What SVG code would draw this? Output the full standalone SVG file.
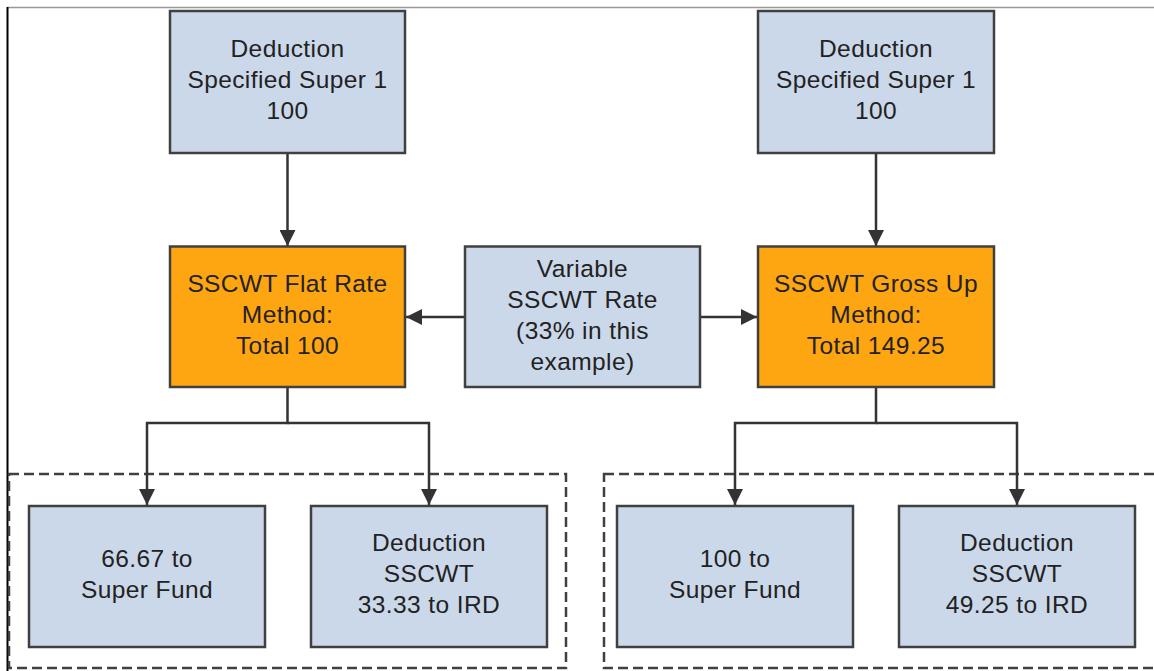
<svg xmlns="http://www.w3.org/2000/svg" width="1154" height="671" viewBox="0 0 1154 671">
<defs>
<marker id="ah" viewBox="0 0 16 16" refX="16" refY="8" markerWidth="16" markerHeight="16" markerUnits="userSpaceOnUse" orient="auto">
<path d="M0,0 L16,8 L0,16 z" fill="#333"/>
</marker>
</defs>
<style>
.box{fill:#cbd8ea;stroke:#404040;stroke-width:2.5}
.org{fill:#fea512;stroke:#404040;stroke-width:2.5}
.grp{fill:none;stroke:#404040;stroke-width:2.5;stroke-dasharray:10 5}
.t{font-family:"Liberation Sans",Arial,sans-serif;font-size:24.5px;letter-spacing:0.4px;fill:#222;text-anchor:middle}
.c{fill:none;stroke:#333;stroke-width:2.5}
</style>
<rect width="1154" height="671" fill="#fff"/>
<line x1="7" y1="7.5" x2="1154" y2="7.5" stroke="#999" stroke-width="1.5"/>
<line x1="7.5" y1="7" x2="7.5" y2="671" stroke="#000" stroke-width="2"/>

<g id="group-left"><rect class="grp" x="9" y="474" width="557" height="194"/></g>
<g id="group-right"><rect class="grp" x="604" y="474" width="560" height="194"/></g>

<g id="connectors">
<path class="c" d="M287.5,153 V246" marker-end="url(#ah)"/>
<path class="c" d="M876,153 V246" marker-end="url(#ah)"/>
<path class="c" d="M465,317 H406" marker-end="url(#ah)"/>
<path class="c" d="M700,317 H757" marker-end="url(#ah)"/>
<path class="c" d="M287.5,387 V423 H147 V505" marker-end="url(#ah)"/>
<path class="c" d="M287.5,423 H429 V505" marker-end="url(#ah)"/>
<path class="c" d="M876,387 V423 H735 V505" marker-end="url(#ah)"/>
<path class="c" d="M876,423 H1017 V505" marker-end="url(#ah)"/>
</g>

<g id="ded-left">
<rect class="box" x="170" y="11" width="235" height="142"/>
<text class="t" x="287.5" y="57">Deduction</text>
<text class="t" x="287.5" y="88">Specified Super 1</text>
<text class="t" x="287.5" y="119">100</text>
</g>
<g id="ded-right">
<rect class="box" x="758" y="11" width="236" height="142"/>
<text class="t" x="876" y="57">Deduction</text>
<text class="t" x="876" y="88">Specified Super 1</text>
<text class="t" x="876" y="119">100</text>
</g>
<g id="flat-rate">
<rect class="org" x="170" y="246.5" width="235" height="140.5"/>
<text class="t" x="287.5" y="292">SSCWT Flat Rate</text>
<text class="t" x="287.5" y="323">Method:</text>
<text class="t" x="287.5" y="354">Total 100</text>
</g>
<g id="variable-rate">
<rect class="box" x="465" y="246.5" width="235" height="140.5"/>
<text class="t" x="582.5" y="277">Variable</text>
<text class="t" x="582.5" y="308">SSCWT Rate</text>
<text class="t" x="582.5" y="339">(33% in this</text>
<text class="t" x="582.5" y="369.5">example)</text>
</g>
<g id="gross-up">
<rect class="org" x="758" y="246.5" width="236" height="140.5"/>
<text class="t" x="876" y="292">SSCWT Gross Up</text>
<text class="t" x="876" y="323">Method:</text>
<text class="t" x="876" y="354">Total 149.25</text>
</g>
<g id="super-fund-left">
<rect class="box" x="29" y="506" width="236" height="141"/>
<text class="t" x="147" y="567">66.67 to</text>
<text class="t" x="147" y="598">Super Fund</text>
</g>
<g id="sscwt-left">
<rect class="box" x="311" y="506" width="236" height="141"/>
<text class="t" x="429" y="551">Deduction</text>
<text class="t" x="429" y="582">SSCWT</text>
<text class="t" x="429" y="613">33.33 to IRD</text>
</g>
<g id="super-fund-right">
<rect class="box" x="617" y="506" width="236" height="141"/>
<text class="t" x="735" y="567">100 to</text>
<text class="t" x="735" y="598">Super Fund</text>
</g>
<g id="sscwt-right">
<rect class="box" x="899" y="506" width="236" height="141"/>
<text class="t" x="1017" y="551">Deduction</text>
<text class="t" x="1017" y="582">SSCWT</text>
<text class="t" x="1017" y="613">49.25 to IRD</text>
</g>
</svg>
